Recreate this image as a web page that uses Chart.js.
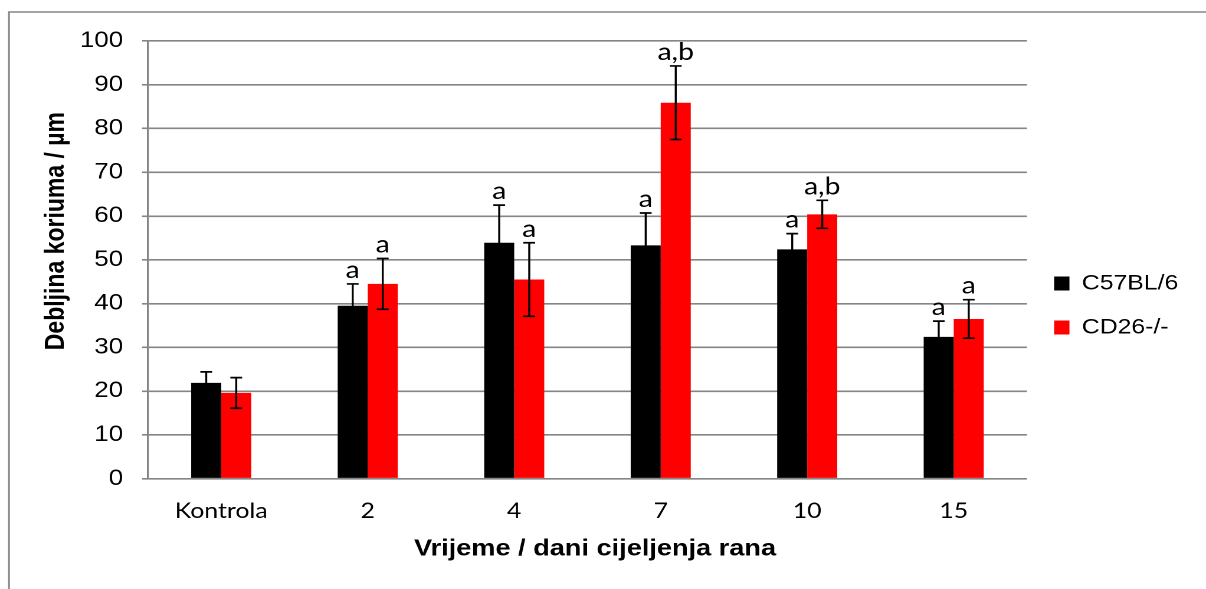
<!DOCTYPE html>
<html>
<head>
<meta charset="utf-8">
<script src="https://cdn.jsdelivr.net/npm/chart.js@4.4.1/dist/chart.umd.min.js"></script>
<style>
  html, body { margin: 0; padding: 0; background: #ffffff; overflow: hidden; }
  #wrap { position: absolute; left: 0; top: 0; width: 1022px; height: 589px;
          transform: scaleX(1.18004); transform-origin: 0 0; }
</style>
</head>
<body>
<div id="wrap"><canvas id="chart"></canvas></div>
<script>
// ---- data ----
const categories = ['Kontrola', '2', '4', '7', '10', '15'];
const seriesNames = ['C57BL/6', 'CD26-/-'];
const c57Values = [21.9, 39.5, 53.9, 53.3, 52.4, 32.4];
const c57Errors = [2.5, 5.0, 8.6, 7.4, 3.6, 3.6];
const cd26Values = [19.6, 44.5, 45.5, 85.9, 60.4, 36.5];
const cd26Errors = [3.5, 5.8, 8.4, 8.4, 3.2, 4.4];
const c57Marks = ['', 'a', 'a', 'a', 'a', 'a'];
const cd26Marks = ['', 'a', 'a', 'a,b', 'a,b', 'a'];
const yMin = 0, yMax = 100, yStep = 10;
const xTitle = 'Vrijeme / dani cijeljenja rana';
const yTitle = 'Debljina koriuma / µm';

const GRID = '#858585';

const framePlugin = {
  id: 'frame',
  beforeDraw(chart) {
    const ctx = chart.ctx;
    ctx.save();
    ctx.strokeStyle = GRID;
    ctx.lineWidth = 1.5;
    ctx.beginPath();
    ctx.moveTo(7.6, chart.height + 2);
    ctx.lineTo(7.6, 12);
    ctx.lineTo(chart.width + 2, 12);
    ctx.stroke();
    ctx.restore();
  }
};

const errorPlugin = {
  id: 'errorBarsAndMarks',
  afterDatasetsDraw(chart) {
    const ctx = chart.ctx;
    const yScale = chart.scales.y;
    ctx.save();
    chart.data.datasets.forEach((ds, di) => {
      const meta = chart.getDatasetMeta(di);
      meta.data.forEach((bar, i) => {
        const v = ds.data[i], e = ds.errors[i];
        const x = bar.x;
        const yt = yScale.getPixelForValue(v + e);
        const yb = yScale.getPixelForValue(v - e);
        ctx.strokeStyle = '#000';
        ctx.lineWidth = 1.7;
        ctx.beginPath();
        ctx.moveTo(x, yt); ctx.lineTo(x, yb);
        ctx.moveTo(x - 5, yt); ctx.lineTo(x + 5, yt);
        ctx.moveTo(x - 5, yb); ctx.lineTo(x + 5, yb);
        ctx.stroke();
        const m = ds.marks[i];
        if (m) {
          ctx.fillStyle = '#000';
          ctx.font = '24px Lato';
          ctx.textAlign = 'center';
          ctx.textBaseline = 'alphabetic';
          ctx.fillText(m, x, yt - 6);
        }
      });
    });
    ctx.restore();
  }
};

new Chart(document.getElementById('chart'), {
  type: 'bar',
  data: {
    labels: categories,
    datasets: [
      { label: seriesNames[0], data: c57Values, errors: c57Errors, marks: c57Marks,
        backgroundColor: '#000000', borderWidth: 0 },
      { label: seriesNames[1], data: cd26Values, errors: cd26Errors, marks: cd26Marks,
        backgroundColor: '#ff0000', borderWidth: 0 }
    ]
  },
  options: {
    responsive: true,
    maintainAspectRatio: false,
    animation: false,
    devicePixelRatio: 2,
    layout: { padding: { left: 0, top: 41, right: 13.5, bottom: 19 } },
    datasets: { bar: { categoryPercentage: 0.41, barPercentage: 1.0 } },
    plugins: {
      legend: {
        position: 'right',
        align: 'center',
        labels: {
          font: { family: 'Liberation Sans', size: 21 },
          color: '#000',
          boxWidth: 13,
          boxHeight: 14,
          padding: 23
        }
      },
      tooltip: { enabled: false },
      title: { display: false }
    },
    scales: {
      x: {
        grid: { display: false },
        border: { display: false },
        ticks: {
          font: { family: 'Lato', size: 21 },
          color: '#000',
          padding: 12,
          maxRotation: 0
        },
        title: {
          display: true,
          text: '  ' + xTitle,
          font: { family: 'Liberation Sans', size: 23, weight: 'bold' },
          color: '#000',
          padding: { top: 0, bottom: 7 }
        },
        afterFit(scale) { scale.height = 91.3; }
      },
      y: {
        min: yMin,
        max: yMax,
        grid: { color: GRID, lineWidth: 1.6, drawTicks: true, tickLength: 5, tickColor: GRID },
        border: { display: true, color: GRID, width: 1.6 },
        ticks: {
          stepSize: yStep,
          font: { family: 'Liberation Sans', size: 22 },
          color: '#000',
          padding: 16
        },
        title: {
          display: true,
          text: '         ' + yTitle,
          font: { family: 'Liberation Sans', size: 23, weight: 'bold' },
          color: '#000',
          padding: { top: 34, bottom: 0 }
        },
        afterFit(scale) { scale.width = 125.4; }
      }
    }
  },
  plugins: [framePlugin, errorPlugin]
});
</script>
</body>
</html>
